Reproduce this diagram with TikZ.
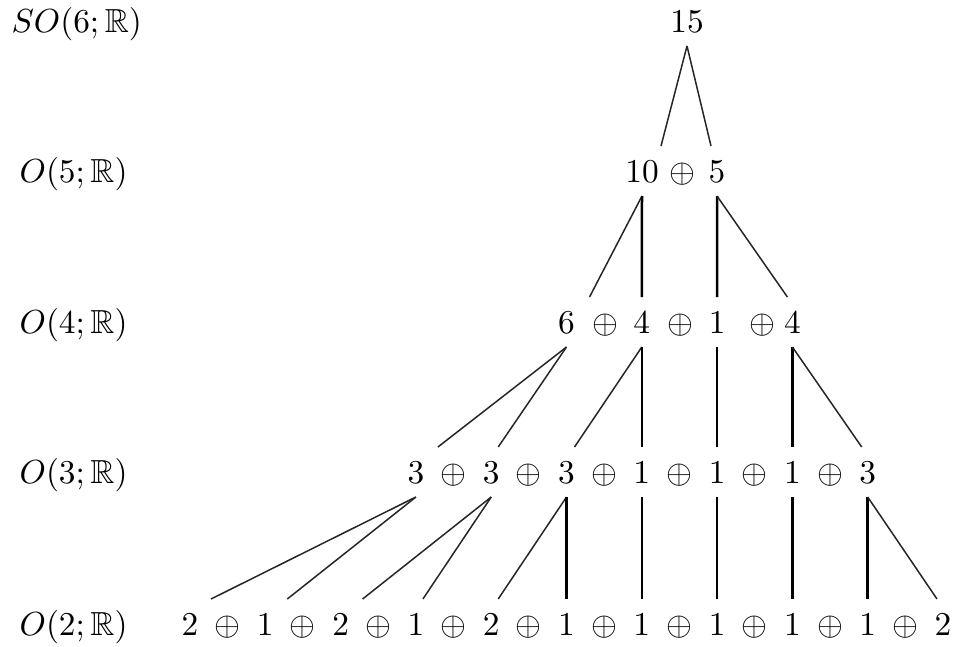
\documentclass[tikz,border=0pt]{standalone}
\usepackage{amssymb}
\usepackage{tikz}
\usetikzlibrary{calc}

\begin{document}
\begin{tikzpicture}[
  x=0.3pt, y=-0.3pt,
  num/.style={anchor=base, inner xsep=0pt, inner ysep=4pt,
              text height=6.6pt, text depth=0pt},
  grp/.style={anchor=base west, inner sep=0pt},
  branch/.style={line width=0.45pt, black!85},
  stem/.style={line width=0.75pt, black}
]
\useasboundingbox (0,0) rectangle (956,646);

% group chain on the left
\node[grp] (g6) at (11,32) {$SO(6;\mathbb{R})$};
\node[grp] (g5) at (19,182) {$O(5;\mathbb{R})$};
\node[grp] (g4) at (19,333) {$O(4;\mathbb{R})$};
\node[grp] (g3) at (19,483) {$O(3;\mathbb{R})$};
\node[grp] (g2) at (19,635) {$O(2;\mathbb{R})$};

% branching rows
\node[num] (top) at (687,32) {$15$};

\node[num] (a6) at (642,182) {$10$};
\node[num] (ap) at (682,182) {$\oplus$};
\node[num] (a7) at (717,182) {$5$};

\foreach \v [count=\i from 5] in {6,4,1,4}
  \node[num] (b\i) at (190+75.3*\i,333) {$\v$};
\node[num] (bp5) at (605,333) {$\oplus$};
\node[num] (bp6) at (680,333) {$\oplus$};
\node[num] (bp7) at (762,333) {$\oplus$};

\foreach \v [count=\i from 3] in {3,3,3,1,1,1,3}
  \node[num] (c\i) at (190+75.3*\i,483) {$\v$};
\foreach \i in {3,...,8}
  \node[num] (cp\i) at (190+75.3*\i+37.65,483) {$\oplus$};

\foreach \v [count=\i from 0] in {2,1,2,1,2,1,1,1,1,1,2}
  \node[num] (d\i) at (190+75.3*\i,635) {$\v$};
\foreach \i in {0,...,9}
  \node[num] (dp\i) at (190+75.3*\i+37.65,635) {$\oplus$};

% SO(6) -> O(5)
\draw[branch] (top.south) -- ($(a6.north)+(19,0)$);
\draw[branch] (top.south) -- ($(a7.north)+(-6,0)$);

% O(5) -> O(4)
\draw[branch] (a6.south) -- ($(b5.north)+(23,0)$);
\draw[stem] (a6.south) -- (b6.north);
\draw[stem] (a7.south) -- (b7.north);
\draw[branch] (a7.south) -- ($(b8.north)+(-5,0)$);

% O(4) -> O(3)
\draw[branch] (b5.south) -- ($(c3.north)+(22,0)$);
\draw[branch] (b5.south) -- ($(c4.north)+(7,0)$);
\draw[branch] (b6.south) -- ($(c5.north)+(8,0)$);
\draw[stem] (b6.south) -- (c6.north);
\draw[stem] (b7.south) -- (c7.north);
\draw[stem] (b8.south) -- (c8.north);
\draw[branch] (b8.south) -- ($(c9.north)+(-6,0)$);

% O(3) -> O(2)
\draw[branch] (c3.south) -- ($(d0.north)+(21,0)$);
\draw[branch] (c3.south) -- ($(d1.north)+(22,0)$);
\draw[branch] (c4.south) -- ($(d2.north)+(22,0)$);
\draw[branch] (c4.south) -- ($(d3.north)+(7,0)$);
\draw[branch] (c5.south) -- ($(d4.north)+(7,0)$);
\draw[stem] (c5.south) -- (d5.north);
\draw[stem] (c6.south) -- (d6.north);
\draw[stem] (c7.south) -- (d7.north);
\draw[stem] (c8.south) -- (d8.north);
\draw[stem] (c9.south) -- (d9.north);
\draw[branch] (c9.south) -- ($(d10.north)+(-6,0)$);
\end{tikzpicture}
\end{document}
